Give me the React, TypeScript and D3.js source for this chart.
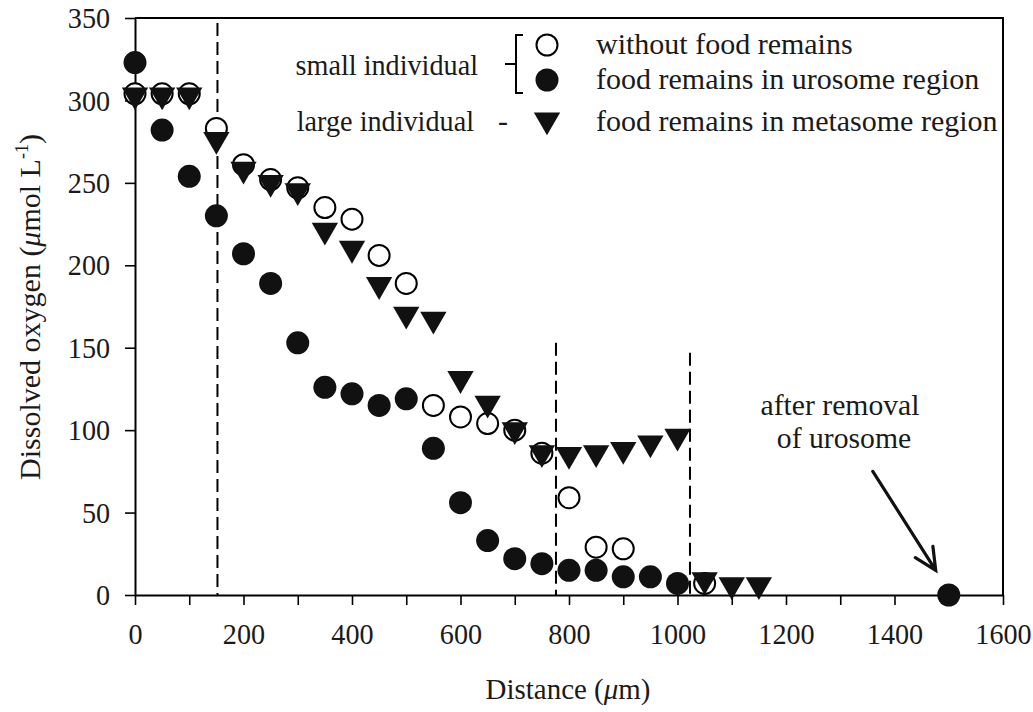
import React, { useEffect, useRef } from 'react';
import * as d3 from 'd3';

// without food remains (small individual, open circles)
const openDist = [0, 50, 100, 150, 200, 250, 300, 350, 400, 450, 500, 550, 600, 650, 700, 750, 800, 850, 900, 1050];
const openVals = [304, 304, 304, 283, 261, 252, 247, 235, 228, 206, 189, 115, 108, 104, 100, 86, 59, 29, 28, 7];

// food remains in urosome region (small individual, filled circles)
const uroDist = [0, 50, 100, 150, 200, 250, 300, 350, 400, 450, 500, 550, 600, 650, 700, 750, 800, 850, 900, 950, 1000, 1500];
const uroVals = [323, 282, 254, 230, 207, 189, 153, 126, 122, 115, 119, 89, 56, 33, 22, 19, 15, 15, 11, 11, 7, 0];

// food remains in metasome region (large individual, triangles)
const metaDist = [0, 50, 100, 150, 200, 250, 300, 350, 400, 450, 500, 550, 600, 650, 700, 750, 800, 850, 900, 950, 1000, 1050, 1100, 1150];
const metaVals = [302, 302, 302, 275, 257, 249, 244, 220, 209, 187, 169, 166, 130, 115, 99, 85, 84, 85, 87, 91, 95, 8, 5, 5];

// dashed dividers: distance and top value
const dividerDist = [152, 776, 1023];
const dividerTop = [347, 153, 147];

const xTicks = d3.range(0, 1601, 100);
const yTicks = d3.range(0, 351, 50);

// annotation arrow (data coords)
const arrowFrom = [1360, 75];
const arrowTo = [1476, 15];

const FONT = '"Liberation Serif", "Times New Roman", serif';
const FS = 30;

export default function App() {
  const svgRef = useRef<SVGSVGElement>(null);

  useEffect(() => {
    const svg = d3.select(svgRef.current);
    svg.selectAll('*').remove();

    const x = d3.scaleLinear().domain([0, 1600]).range([135, 1003]);
    const y = d3.scaleLinear().domain([0, 350]).range([595, 18]);

    const g = svg.append('g').style('font-family', FONT);

    // text helper: positioned by transform so the width can be nudged
    const label = (parent: any, px: number, py: number, anchor = 'start', sx = 1, rot = 0) =>
      parent.append('text')
        .attr('transform', `translate(${px},${py})${rot ? ` rotate(${rot})` : ''} scale(${sx},1)`)
        .attr('text-anchor', anchor)
        .style('font-size', `${FS}px`)
        .attr('fill', '#1a1a1a');

    // axes
    const xAxis = g.append('g').attr('transform', `translate(0,${y(0)})`)
      .call(d3.axisBottom(x).tickValues(xTicks).tickSize(10).tickSizeOuter(0).tickPadding(18)
        .tickFormat((d: any) => (d % 200 === 0 ? String(d) : '')));
    const yAxis = g.append('g').attr('transform', `translate(${x(0)},0)`)
      .call(d3.axisLeft(y).tickValues(yTicks).tickSize(10).tickSizeOuter(0).tickPadding(16.5));
    [xAxis, yAxis].forEach(a => {
      a.select('.domain').attr('stroke', '#000').attr('stroke-width', 2);
      a.selectAll('.tick line').attr('stroke', '#000').attr('stroke-width', 1.6);
      a.selectAll('.tick text').attr('fill', '#1a1a1a').attr('transform', 'scale(0.94,1)')
        .style('font-size', `${FS}px`).style('font-family', FONT);
    });

    // frame top and right
    g.append('path')
      .attr('d', `M${x(0)},${y(350)}H${x(1600)}V${y(0)}`)
      .attr('fill', 'none').attr('stroke', '#000').attr('stroke-width', 2);

    // dashed dividers
    dividerDist.forEach((d, i) => {
      g.append('line')
        .attr('x1', x(d)).attr('x2', x(d))
        .attr('y1', y(dividerTop[i])).attr('y2', y(0))
        .attr('stroke', '#000').attr('stroke-width', 2).attr('stroke-dasharray', '13,6');
    });

    const tri = d3.symbol().type(d3.symbolTriangle).size(300);

    // open circles
    g.selectAll('.open').data(openDist).enter().append('circle')
      .attr('cx', d => x(d)).attr('cy', (d, i) => y(openVals[i])).attr('r', 10.5)
      .attr('fill', '#fff').attr('stroke', '#000').attr('stroke-width', 2);

    // filled circles
    g.selectAll('.uro').data(uroDist).enter().append('circle')
      .attr('cx', d => x(d)).attr('cy', (d, i) => y(uroVals[i])).attr('r', 11.5)
      .attr('fill', '#111');

    // triangles (pointing down)
    g.selectAll('.meta').data(metaDist).enter().append('path')
      .attr('d', tri as any)
      .attr('transform', (d, i) => `translate(${x(d)},${y(metaVals[i]) - 2}) rotate(180)`)
      .attr('fill', '#111');

    // axis titles
    const xt = label(g, 568, 699, 'middle', 0.965);
    xt.append('tspan').text('Distance (');
    xt.append('tspan').style('font-style', 'italic').text('μ');
    xt.append('tspan').text('m)');

    const yt = label(g, 40, 307, 'middle', 1, -90);
    yt.append('tspan').text('Dissolved oxygen (');
    yt.append('tspan').style('font-style', 'italic').text('μ');
    yt.append('tspan').text('mol L');
    yt.append('tspan').attr('dy', -12).style('font-size', '18px').text('-1');
    yt.append('tspan').attr('dy', 12).text(')');

    // legend
    label(g, 478, 75, 'end', 0.94).text('small individual');
    label(g, 474, 131, 'end', 0.94).text('large individual');
    label(g, 498, 131).text('-');
    g.append('path').attr('d', 'M523,35H516V93H523M516,64H505')
      .attr('fill', 'none').attr('stroke', '#000').attr('stroke-width', 2);
    g.append('circle').attr('cx', 547).attr('cy', 45).attr('r', 10.5)
      .attr('fill', '#fff').attr('stroke', '#000').attr('stroke-width', 2);
    g.append('circle').attr('cx', 547).attr('cy', 80).attr('r', 11.5).attr('fill', '#111');
    g.append('path').attr('d', tri as any).attr('transform', 'translate(547,120) rotate(180)').attr('fill', '#111');
    label(g, 596, 54).text('without food remains');
    label(g, 596, 89).text('food remains in urosome region');
    label(g, 596, 131).text('food remains in metasome region');

    // annotation
    label(g, 840, 415, 'middle', 0.99).text('after removal');
    label(g, 844, 448, 'middle', 0.99).text('of urosome');

    const x1 = x(arrowFrom[0]), y1 = y(arrowFrom[1]);
    const x2 = x(arrowTo[0]), y2 = y(arrowTo[1]);
    const ang = Math.atan2(y1 - y2, x1 - x2);
    const wl = 24, spread = Math.PI / 7;
    const w1 = [x2 + wl * Math.cos(ang - spread), y2 + wl * Math.sin(ang - spread)];
    const w2 = [x2 + wl * Math.cos(ang + spread), y2 + wl * Math.sin(ang + spread)];
    g.append('path')
      .attr('d', `M${x1},${y1}L${x2},${y2}M${w1[0]},${w1[1]}L${x2},${y2}L${w2[0]},${w2[1]}`)
      .attr('fill', 'none').attr('stroke', '#111').attr('stroke-width', 3.2).attr('stroke-linecap', 'round');
  }, []);

  return (
    <svg ref={svgRef} width={1033} height={712}
      style={{ position: 'absolute', left: 0, top: 0, background: '#fff' }} />
  );
}
